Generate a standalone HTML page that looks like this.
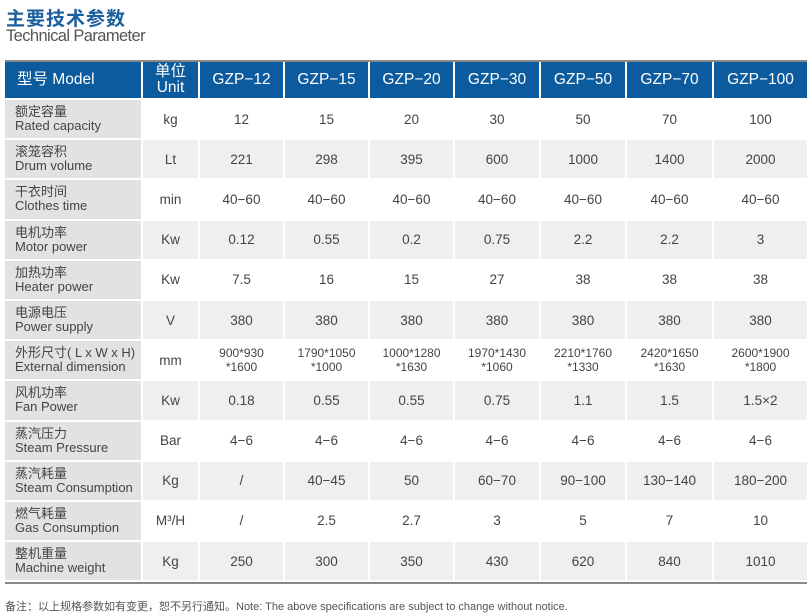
<!DOCTYPE html>
<html><head><meta charset="utf-8"><style>
*{margin:0;padding:0;box-sizing:border-box}
body{width:812px;height:616px;background:#fff;font-family:"Liberation Sans","Noto Sans CJK SC",sans-serif;position:relative;overflow:hidden;color:#444}
.t1{position:absolute;left:6px;top:4px;font-size:19px;font-weight:bold;color:#1a5f9e;letter-spacing:1px}
.t2{position:absolute;left:6px;top:27px;font-size:16.5px;color:#555;letter-spacing:-0.6px}
.tbl{position:absolute;left:5px;top:60px;width:802px;border-top:2px solid #888;border-bottom:2px solid #888}
.r{display:flex;height:40.2px}
.r.h{height:38px}
.c{border-right:2px solid #fff;border-bottom:2px solid #fff;display:flex;align-items:center;justify-content:center;text-align:center;font-size:13.5px;line-height:15px;color:#444}
.c:last-child{border-right:none}
.h .c{background:#0b5b9e;color:#fff;font-size:15.5px;line-height:16px}
.l{width:138px;justify-content:flex-start;text-align:left;padding-left:10px;background:#e2e2e2 !important;font-size:13px;line-height:14px}
.h .l{background:#0b5b9e !important;font-size:15.5px;padding-left:12px}
.u{width:57px}
.d1{width:85px}.d2{width:85px}.d3{width:85px}.d4{width:86px}.d5{width:86px}.d6{width:87px}.d7{width:93px}
.g .c{background:#efefef}
.w .c{background:#fff}
.sm{font-size:12px;line-height:14px}
.note{position:absolute;left:5px;top:598px;font-size:11px;color:#555}
</style></head><body>
<div class="t1">主要技术参数</div>
<div class="t2">Technical Parameter</div>
<div class="tbl">
<div class="r h"><div class="c l">型号 Model</div><div class="c u">单位<br>Unit</div><div class="c d1">GZP−12</div><div class="c d2">GZP−15</div><div class="c d3">GZP−20</div><div class="c d4">GZP−30</div><div class="c d5">GZP−50</div><div class="c d6">GZP−70</div><div class="c d7">GZP−100</div></div>
<div class="r w"><div class="c l">额定容量<br>Rated capacity</div><div class="c u">kg</div><div class="c d1">12</div><div class="c d2">15</div><div class="c d3">20</div><div class="c d4">30</div><div class="c d5">50</div><div class="c d6">70</div><div class="c d7">100</div></div>
<div class="r g"><div class="c l">滚笼容积<br>Drum volume</div><div class="c u">Lt</div><div class="c d1">221</div><div class="c d2">298</div><div class="c d3">395</div><div class="c d4">600</div><div class="c d5">1000</div><div class="c d6">1400</div><div class="c d7">2000</div></div>
<div class="r w"><div class="c l">干衣时间<br>Clothes time</div><div class="c u">min</div><div class="c d1">40−60</div><div class="c d2">40−60</div><div class="c d3">40−60</div><div class="c d4">40−60</div><div class="c d5">40−60</div><div class="c d6">40−60</div><div class="c d7">40−60</div></div>
<div class="r g"><div class="c l">电机功率<br>Motor power</div><div class="c u">Kw</div><div class="c d1">0.12</div><div class="c d2">0.55</div><div class="c d3">0.2</div><div class="c d4">0.75</div><div class="c d5">2.2</div><div class="c d6">2.2</div><div class="c d7">3</div></div>
<div class="r w"><div class="c l">加热功率<br>Heater power</div><div class="c u">Kw</div><div class="c d1">7.5</div><div class="c d2">16</div><div class="c d3">15</div><div class="c d4">27</div><div class="c d5">38</div><div class="c d6">38</div><div class="c d7">38</div></div>
<div class="r g"><div class="c l">电源电压<br>Power supply</div><div class="c u">V</div><div class="c d1">380</div><div class="c d2">380</div><div class="c d3">380</div><div class="c d4">380</div><div class="c d5">380</div><div class="c d6">380</div><div class="c d7">380</div></div>
<div class="r w"><div class="c l">外形尺寸( L x W x H)<br>External dimension</div><div class="c u">mm</div><div class="c d1 sm">900*930<br>*1600</div><div class="c d2 sm">1790*1050<br>*1000</div><div class="c d3 sm">1000*1280<br>*1630</div><div class="c d4 sm">1970*1430<br>*1060</div><div class="c d5 sm">2210*1760<br>*1330</div><div class="c d6 sm">2420*1650<br>*1630</div><div class="c d7 sm">2600*1900<br>*1800</div></div>
<div class="r g"><div class="c l">风机功率<br>Fan Power</div><div class="c u">Kw</div><div class="c d1">0.18</div><div class="c d2">0.55</div><div class="c d3">0.55</div><div class="c d4">0.75</div><div class="c d5">1.1</div><div class="c d6">1.5</div><div class="c d7">1.5×2</div></div>
<div class="r w"><div class="c l">蒸汽压力<br>Steam Pressure</div><div class="c u">Bar</div><div class="c d1">4−6</div><div class="c d2">4−6</div><div class="c d3">4−6</div><div class="c d4">4−6</div><div class="c d5">4−6</div><div class="c d6">4−6</div><div class="c d7">4−6</div></div>
<div class="r g"><div class="c l">蒸汽耗量<br>Steam Consumption</div><div class="c u">Kg</div><div class="c d1">/</div><div class="c d2">40−45</div><div class="c d3">50</div><div class="c d4">60−70</div><div class="c d5">90−100</div><div class="c d6">130−140</div><div class="c d7">180−200</div></div>
<div class="r w"><div class="c l">燃气耗量<br>Gas Consumption</div><div class="c u">M³/H</div><div class="c d1">/</div><div class="c d2">2.5</div><div class="c d3">2.7</div><div class="c d4">3</div><div class="c d5">5</div><div class="c d6">7</div><div class="c d7">10</div></div>
<div class="r g"><div class="c l">整机重量<br>Machine weight</div><div class="c u">Kg</div><div class="c d1">250</div><div class="c d2">300</div><div class="c d3">350</div><div class="c d4">430</div><div class="c d5">620</div><div class="c d6">840</div><div class="c d7">1010</div></div>
</div>
<div class="note">备注：以上规格参数如有变更，恕不另行通知。Note: The above specifications are subject to change without notice.</div>
</body></html>
